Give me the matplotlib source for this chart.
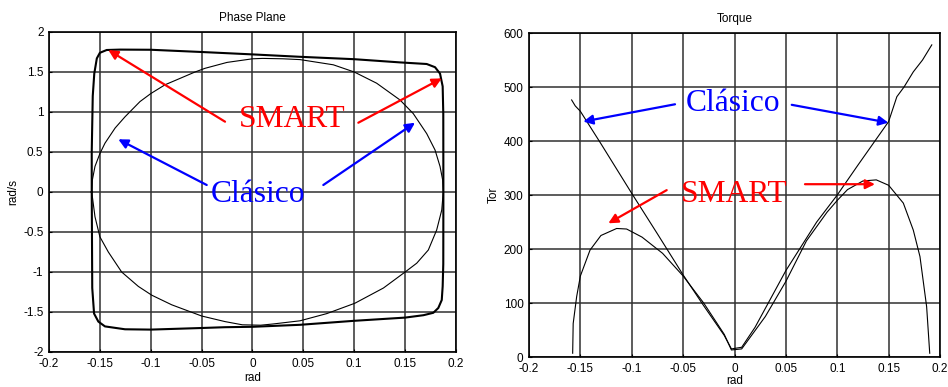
import matplotlib
matplotlib.use("Agg")
import matplotlib.pyplot as plt

plt.rcParams['font.family'] = ['Liberation Sans', 'DejaVu Sans']

# Phase plane - SMART controller (closed loop)
smart_x = [-0.158, -0.158, -0.157, -0.1555, -0.153, -0.15, -0.1433, -0.13, -0.1, -0.05, 0.0, 0.0467,
           0.1, 0.145, 0.1712, 0.1794, 0.1843, 0.1869, 0.1875, 0.1876, 0.1875, 0.1869, 0.186, 0.1826,
           0.1777, 0.168, 0.15, 0.1, 0.0467, 0.0, -0.027, -0.05, -0.1, -0.1253, -0.145, -0.1515,
           -0.1557, -0.1575, -0.158]
smart_y = [0.0, 0.5, 1.2, 1.48, 1.67, 1.74, 1.775, 1.78, 1.778, 1.75, 1.72, 1.69,
           1.66, 1.62, 1.6, 1.56, 1.48, 1.32, 0.98, 0.0, -0.9, -1.18, -1.35, -1.45,
           -1.51, -1.54, -1.57, -1.61, -1.66, -1.685, -1.69, -1.70, -1.72, -1.716, -1.68, -1.62,
           -1.52, -1.2, 0.0]

# Phase plane - classic controller (closed loop)
classic_x = [-0.158, -0.1574, -0.1548, -0.15, -0.145, -0.135, -0.1253, -0.1106, -0.1, -0.086, -0.0565,
             -0.0467, -0.025, 0.0, 0.01, 0.03, 0.0467, 0.0794, 0.1, 0.122, 0.145, 0.158, 0.1712, 0.1794,
             0.1843, 0.1869, 0.1875, 0.186, 0.181, 0.1728, 0.1614, 0.15, 0.1287, 0.1007, 0.073, 0.0467,
             0.02, 0.008, -0.01, -0.027, -0.05, -0.0794, -0.099, -0.1122, -0.1286, -0.1417, -0.15,
             -0.1548, -0.158]
classic_y = [0.0, 0.15, 0.32, 0.48, 0.61, 0.80, 0.94, 1.13, 1.23, 1.34, 1.5,
             1.546, 1.62, 1.665, 1.67, 1.665, 1.655, 1.59, 1.5, 1.36, 1.15, 0.98, 0.73, 0.525,
             0.32, 0.15, 0.0, -0.225, -0.475, -0.725, -0.89, -1.0, -1.2, -1.39, -1.52, -1.61,
             -1.65, -1.665, -1.66, -1.62, -1.55, -1.41, -1.29, -1.18, -1.0, -0.75, -0.56,
             -0.31, 0.0]

# Torque - classic
tc_x = [-0.1585, -0.155, -0.15, -0.13, -0.1, -0.075, -0.05, -0.03, -0.01, -0.003, 0.007, 0.02,
        0.05, 0.08, 0.1, 0.12, 0.15, 0.158, 0.165, 0.174, 0.183, 0.192]
tc_y = [476, 465, 455, 395, 303, 228, 152, 95, 40, 15, 18, 55,
        160, 250, 300, 355, 436, 482, 500, 528, 550, 578]

# Torque - SMART
ts_x = [-0.1575, -0.157, -0.1536, -0.15, -0.1406, -0.13, -0.1147, -0.105, -0.09, -0.07, -0.05,
        -0.03, -0.01, -0.003, 0.007, 0.03, 0.05, 0.07, 0.09, 0.1, 0.11, 0.125, 0.138, 0.15,
        0.1643, 0.174, 0.1805, 0.187, 0.190]
ts_y = [7, 62, 112, 150, 198, 225, 238, 237, 222, 192, 150,
        100, 42, 13, 15, 75, 140, 215, 268, 290, 310, 326, 328, 318,
        285, 235, 186, 93, 7]

x_ticks = [-0.2, -0.15, -0.1, -0.05, 0, 0.05, 0.1, 0.15, 0.2]
x_ticklabels = ['-0.2', '-0.15', '-0.1', '-0.05', '0', '0.05', '0.1', '0.15', '0.2']
pp_yticks = [-2, -1.5, -1, -0.5, 0, 0.5, 1, 1.5, 2]
pp_yticklabels = ['-2', '-1.5', '-1', '-0.5', '0', '0.5', '1', '1.5', '2']
tq_yticks = [0, 100, 200, 300, 400, 500, 600]

fig = plt.figure(figsize=(9.48, 3.87), dpi=100)
ax1 = fig.add_axes([49/948, 1-352/387, (456-49)/948, (352-32)/387])
ax2 = fig.add_axes([529/948, 1-357/387, (940-529)/948, (357-33)/387])

def style(ax, xpad):
    ax.grid(True, color='#303030', lw=1.1)
    ax.set_axisbelow(True)
    ax.tick_params(axis='both', direction='in', length=2, labelsize=8.5)
    ax.tick_params(axis='x', pad=xpad)
    ax.tick_params(axis='y', pad=4)
    for s in ax.spines.values():
        s.set_linewidth(1.2)
        s.set_color('black')

ax1.plot(smart_x, smart_y, color='black', lw=1.5)
ax1.plot(classic_x, classic_y, color='black', lw=0.8)
ax1.set_xlim(-0.2, 0.2)
ax1.set_ylim(-2, 2)
ax1.set_xticks(x_ticks)
ax1.set_xticklabels(x_ticklabels)
ax1.set_yticks(pp_yticks)
ax1.set_yticklabels(pp_yticklabels)
style(ax1, 4.5)
ax1.set_title('Phase Plane', fontsize=8.5, pad=8)
ax1.set_xlabel('rad', fontsize=8.5, labelpad=1.5)
ax1.set_ylabel('rad/s', fontsize=8.5, labelpad=3)

ax2.plot(tc_x, tc_y, color='black', lw=0.8)
ax2.plot(ts_x, ts_y, color='black', lw=0.8)
ax2.set_xlim(-0.2, 0.2)
ax2.set_ylim(0, 600)
ax2.set_xticks(x_ticks)
ax2.set_xticklabels(x_ticklabels)
ax2.set_yticks(tq_yticks)
style(ax2, 4.5)
ax2.set_title('Torque', fontsize=8.5, pad=8)
ax2.set_xlabel('rad', fontsize=8.5, labelpad=0)
ax2.set_ylabel('Tor', fontsize=8.5, labelpad=3)

serif = ['Liberation Serif', 'DejaVu Serif']
RED = '#ff0000'
BLUE = '#0000ff'
FS = 22.7
ap_r = dict(arrowstyle='-|>', color=RED, lw=1.6, mutation_scale=14, shrinkA=0, shrinkB=0)
ap_b = dict(arrowstyle='-|>', color=BLUE, lw=1.6, mutation_scale=14, shrinkA=0, shrinkB=0)

# Left panel annotations
ax1.text(0.0388, 0.816, 'SMART', color=RED, fontsize=FS, family=serif, ha='center', va='baseline')
ax1.annotate('', xy=(-0.1417, 1.775), xytext=(-0.027, 0.879), arrowprops=ap_r)
ax1.annotate('', xy=(0.186, 1.42), xytext=(0.104, 0.866), arrowprops=ap_r)
ax1.text(0.0059, -0.121, 'Clásico', color=BLUE, fontsize=FS, family=serif, ha='center', va='baseline')
ax1.annotate('', xy=(-0.1319, 0.659), xytext=(-0.045, 0.0875), arrowprops=ap_b)
ax1.annotate('', xy=(0.1597, 0.866), xytext=(0.0696, 0.0875), arrowprops=ap_b)

# Right panel annotations
ax2.text(-0.0015, 456, 'Clásico', color=BLUE, fontsize=FS, family=serif, ha='center', va='baseline')
ax2.annotate('', xy=(-0.1472, 436), xytext=(-0.0579, 468), arrowprops=ap_b)
ax2.annotate('', xy=(0.1497, 434), xytext=(0.0557, 467), arrowprops=ap_b)
ax2.text(-0.0005, 287.6, 'SMART', color=RED, fontsize=FS, family=serif, ha='center', va='baseline')
ax2.annotate('', xy=(-0.1228, 247.6), xytext=(-0.066, 309), arrowprops=ap_r)
ax2.annotate('', xy=(0.1367, 320), xytext=(0.0686, 320), arrowprops=ap_r)

fig.savefig('out.png', dpi=100)
